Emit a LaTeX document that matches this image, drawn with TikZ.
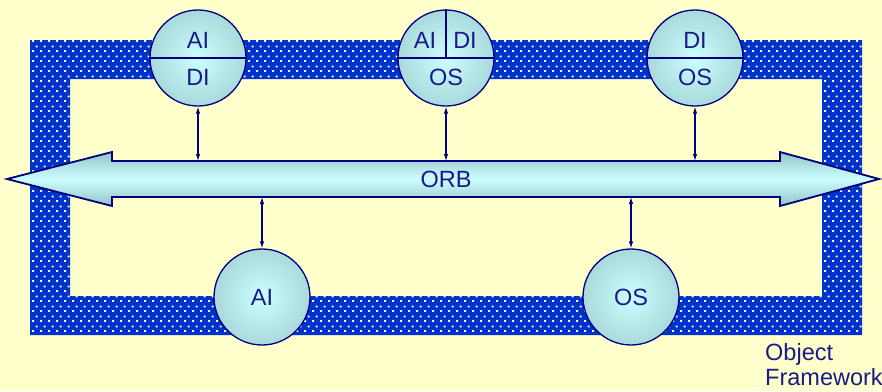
\documentclass[tikz,border=0pt]{standalone}
\usepackage{fontspec}
\setmainfont{Liberation Sans}
\usetikzlibrary{patterns,arrows.meta}
\definecolor{bg}{HTML}{FFFFCC}
\definecolor{frameblue}{HTML}{0033CC}
\definecolor{navy}{HTML}{000080}
\definecolor{txt}{HTML}{1A1A8C}
\definecolor{lightc}{HTML}{CCFFFF}
\definecolor{tealc}{HTML}{94C2C6}
\pgfdeclareradialshading{ballshade}{\pgfpoint{0bp}{0bp}}{color(0bp)=(lightc); color(40bp)=(tealc); color(50bp)=(tealc)}
\pgfdeclarepatternformonly{framedots}{\pgfqpoint{0pt}{0pt}}{\pgfqpoint{8pt}{10pt}}{\pgfqpoint{8pt}{10pt}}{%
  \pgfpathrectangle{\pgfqpoint{0pt}{0pt}}{\pgfqpoint{2.4pt}{2pt}}%
  \pgfpathrectangle{\pgfqpoint{4pt}{5pt}}{\pgfqpoint{2.4pt}{2pt}}%
  \pgfusepath{fill}}
\begin{document}
\begin{tikzpicture}[x=1pt,y=-1pt,
  ball/.style={circle, minimum size=96pt, inner sep=0pt, draw=navy, line width=1.3pt, shading=ballshade},
  lbl/.style={text=txt, font=\fontsize{23.5}{25}\selectfont, inner sep=0pt},
  divider/.style={draw=navy, line width=1.1pt},
  link/.style={draw=navy, line width=1.1pt, {Latex[length=7pt,width=4.5pt]}-{Latex[length=7pt,width=4.5pt]}}]
\useasboundingbox (0,0) rectangle (882,391);
\fill[bg] (0,0) rectangle (882,391);
% frame
\fill[frameblue, even odd rule] (30,40) rectangle (862,335) (70,79) rectangle (822,296);
\fill[pattern=framedots, pattern color=white, even odd rule] (30,40) rectangle (862,335) (70,79) rectangle (822,296);
% ORB arrow
\shadedraw[top color=tealc, bottom color=tealc, middle color=lightc, draw=navy, line width=1.8pt, line join=miter]
  (7,179) -- (112,152) -- (112,161) -- (780,161) -- (780,152) -- (879,179) -- (780,206) -- (780,197) -- (112,197) -- (112,206) -- cycle;
\node[lbl] (orb) at (446,179) {ORB};
\coordinate (orbtop) at (446,161);
\coordinate (orbbot) at (446,197);
% top circles
\node[ball] (c1) at (198,58) {};
\draw[divider] (c1.west) -- (c1.east);
\node[lbl] (c1a) at (198,40) {AI};
\node[lbl] (c1b) at (198,77) {DI};
\node[ball] (c2) at (446,58) {};
\draw[divider] (c2.west) -- (c2.east);
\draw[divider] (c2.north) -- (c2.center);
\node[lbl] (c2a) at (425,40) {AI};
\node[lbl] (c2b) at (465,40) {DI};
\node[lbl] (c2c) at (446,77) {OS};
\node[ball] (c3) at (695,58) {};
\draw[divider] (c3.west) -- (c3.east);
\node[lbl] (c3a) at (695,40) {DI};
\node[lbl] (c3b) at (695,77) {OS};
% bottom circles
\node[ball] (c4) at (262,297) {};
\node[lbl] (c4a) at (262,297) {AI};
\node[ball] (c5) at (631,297) {};
\node[lbl] (c5a) at (631,297) {OS};
% links
\draw[link] (c1.south) -- (c1.south |- orbtop);
\draw[link] (c2.south) -- (c2.south |- orbtop);
\draw[link] (c3.south) -- (c3.south |- orbtop);
\draw[link] (orbbot -| c4.north) -- (c4.north);
\draw[link] (orbbot -| c5.north) -- (c5.north);
% caption
\node[lbl, anchor=base west] (cap1) at (765,360) {Object};
\node[lbl, anchor=base west] (cap2) at (765,385) {Framework};
\end{tikzpicture}
\end{document}
